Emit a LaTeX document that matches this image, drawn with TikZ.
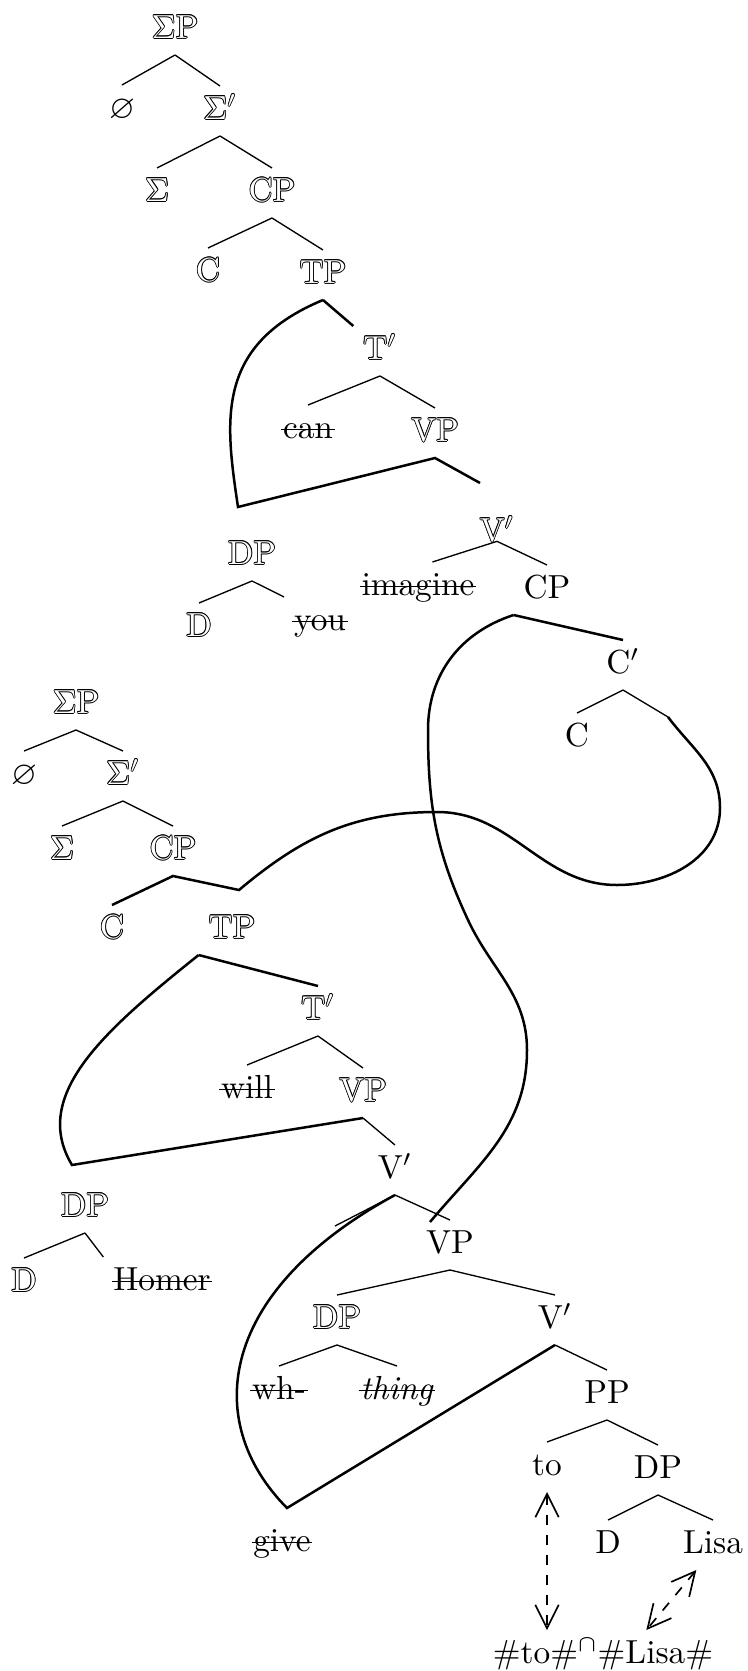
\documentclass[tikz,border=0pt]{standalone}
\usepackage{amsmath,amssymb}
\usetikzlibrary{arrows.meta}
\newcommand{\cpy}[3]{\rlap{\kern#1\raisebox{#2}{#3}}}
\newcommand{\outl}[1]{\cpy{0.25pt}{0pt}{#1}\cpy{-0.25pt}{0pt}{#1}\cpy{0pt}{0.25pt}{#1}\cpy{0pt}{-0.25pt}{#1}%
  \cpy{0.18pt}{0.18pt}{#1}\cpy{-0.18pt}{0.18pt}{#1}\cpy{0.18pt}{-0.18pt}{#1}\cpy{-0.18pt}{-0.18pt}{#1}%
  \textcolor{white}{#1}}
\newcommand{\strk}[1]{\setbox0\hbox{#1}\rlap{\kern-0.5pt\rule[0.55ex]{\dimexpr\wd0+1pt\relax}{0.55pt}}\box0}

\begin{document}
\begin{tikzpicture}[x=0.3pt,y=-0.3pt,
  every node/.style={inner sep=0pt,outer sep=3pt,text height=7pt,text depth=2pt},
  tl/.style={line width=0.4pt},
  mv/.style={line width=0.75pt},
  ph/.style={dashed,line width=0.5pt,{Straight Barb[length=7pt,width=7pt]}-{Straight Barb[length=7pt,width=7pt]}}]
  \useasboundingbox (0,0) rectangle (747,1671);
  % upper tree
  \node (aSP) at (175,30) {\outl{$\Sigma$P}};
  \node (aNull) at (122,110) {$\varnothing$};
  \node (aSbar) at (220,111) {\outl{$\Sigma'$}};
  \node (aS) at (157,193) {\outl{$\Sigma$}};
  \node (aCP) at (272,193) {\outl{CP}};
  \node (aC) at (208,273) {\outl{C}};
  \node (aTP) at (323,275) {\outl{TP}};
  \node (aTbar) at (380,351) {\outl{T$'$}};
  \node (aCan) at (308,430) {\strk{can}};
  \node (aVP) at (435,433) {\outl{VP}};
  \node (aVbar) at (497,533) {\outl{V$'$}};
  \node (aImag) at (418,587) {\strk{imagine}};
  \node (aCP2) at (547,590) {CP};
  \node (aCbar) at (623,665) {C$'$};
  \node (aC2) at (577,738) {C};
  \node (aDP) at (252,556) {\outl{DP}};
  \node (aD) at (199,628) {\outl{D}};
  \node (aYou) at (320,622) {\strk{you}};
  \coordinate (aKink) at (238,507);
  \coordinate (aVbarTop) at (480,483);
  \coordinate (aCbarR) at (668,717);
  \coordinate (aLongEnd) at (430,1222);
  % lower tree
  \node (bSP) at (76,705) {\outl{$\Sigma$P}};
  \node (bNull) at (24,776) {$\varnothing$};
  \node (bSbar) at (123,776) {\outl{$\Sigma'$}};
  \node (bS) at (62,851) {\outl{$\Sigma$}};
  \node (bCP) at (173,851) {\outl{CP}};
  \node (bC) at (112,930) {\outl{C}};
  \node (bTP) at (232,930) {\outl{TP}};
  \node (bTbar) at (318,1011) {\outl{T$'$}};
  \node (bWill) at (247,1090) {\strk{will}};
  \node (bVP) at (363,1093) {\outl{VP}};
  \node (bVbar) at (395,1170) {V$'$};
  \node (bDP) at (85,1208) {\outl{DP}};
  \node (bD) at (24,1283) {\outl{D}};
  \node (bHomer) at (162,1282) {\strk{Homer}};
  \coordinate (bCPR) at (239,890);
  \coordinate (bKink) at (72,1165);
  \coordinate (bVbarL) at (335,1226);
  % VP shell
  \node (cVP) at (450,1245) {VP};
  \node (cDP) at (337,1320) {\outl{DP}};
  \node (cWh) at (279,1391) {\strk{wh-}};
  \node (cThing) at (397,1391) {\strk{\textit{thing}}};
  \node (cGive) at (282,1543) {\strk{give}};
  \node (cVbar) at (555,1320) {V$'$};
  \node (cPP) at (607,1395) {PP};
  \node (cTo) at (547,1467) {to};
  \node (cDP2) at (658,1470) {DP};
  \node (cD) at (608,1545) {D};
  \node (cLisa) at (713,1545) {Lisa};
  \node (cPhon) at (603,1655) {\#to\#$^{\cap}$\#Lisa\#};
  \coordinate (cKink) at (287,1508);

  % branches
  \foreach \p/\c in {aSP.south/aNull.north,aSP.south/aSbar.north,aSbar.south/aS.north,aSbar.south/aCP.north,
    aCP.south/aC.north,aCP.south/aTP.north,aTbar.south/aCan.north,aTbar.south/aVP.north,
    aVbar.base/aImag.60,aVbar.base/aCP2.north,aCbar.south/aC2.north,aCbar.south/aCbarR,
    aDP.south/aD.north,aDP.south/aYou.north west,
    bSP.south/bNull.north,bSP.south/bSbar.north,bSbar.south/bS.north,bSbar.south/bCP.north,
    bTbar.south/bWill.north,bTbar.south/bVP.north,bVP.south/bVbar.north,bVbar.south/cVP.north,
    bVbar.south/bVbarL,bDP.south/bD.north,bDP.south/bHomer.north west,
    cVP.south/cDP.north,cVP.south/cVbar.north,cDP.south/cWh.north,cDP.south/cThing.north,
    cVbar.south/cPP.north,cPP.south/cTo.north,cPP.south/cDP2.north,cDP2.south/cD.north,cDP2.south/cLisa.north}
    \draw[tl] (\p) -- (\c);

  % moved material
  \draw[mv] (aTP.south) -- (aTbar.north west);
  \draw[mv] (aTP.south) .. controls (215,345) and (225,420) .. (aKink) -- (aVP.south) -- (aVbarTop);
  \draw[mv] (aCP2.south west) -- (aCbar.north);
  \draw[mv] (aCP2.south west) to[out=198,in=90] (428,730) to[out=-90,in=115] (468,920)
    to[out=-65,in=90] (527,1050) to[out=-90,in=50] (aLongEnd);
  \draw[mv] (aCbarR) to[out=-53,in=90] (720,808) to[out=-90,in=0] (617,885)
    to[out=180,in=0] (437,812) to[out=180,in=40] (bCPR) -- (bCP.south) -- (bC.north);
  \draw[mv] (bTP.south west) -- (bTbar.north);
  \draw[mv] (bTP.south west) .. controls (105,1030) and (30,1095) .. (bKink) -- (bVP.south);
  \draw[mv] (bVbar.south) .. controls (220,1290) and (200,1420) .. (cKink) -- (cVbar.south);

  % phonology
  \draw[ph] (cTo.south) -- (cTo.south |- cPhon.north);
  \draw[ph] ([xshift=-5pt]cLisa.south) -- ([xshift=13pt]cPhon.north);
\end{tikzpicture}
\end{document}
